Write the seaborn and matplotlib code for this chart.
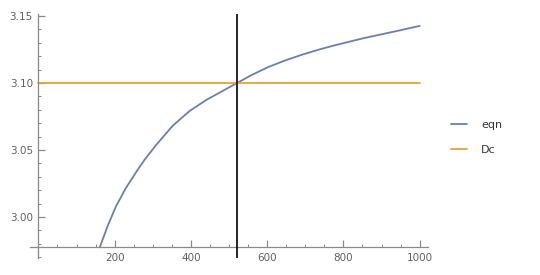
import matplotlib
matplotlib.use("Agg")
import matplotlib.pyplot as plt
import seaborn as sns
import pandas as pd
from matplotlib.ticker import MultipleLocator

# data
eqn_x = [161, 181, 203, 229, 260, 278, 295, 308, 352, 396, 440, 484, 519,
         558, 602, 646, 690, 734, 778, 852, 940, 1000]
eqn_y = [2.9774, 2.9928, 3.0077, 3.0214, 3.0351, 3.0425, 3.0487, 3.0535, 3.0680,
         3.0790, 3.0873, 3.0942, 3.0997, 3.1058, 3.1118, 3.1167, 3.1210, 3.1248,
         3.1282, 3.1334, 3.1388, 3.1426]
dc_x = [0, 1000]
dc_y = [3.10, 3.10]
vline_x = 520
series_names = ["eqn", "Dc"]
x_ticks = [200, 400, 600, 800, 1000]
y_ticks = [3.00, 3.05, 3.10, 3.15]

df = pd.concat([
    pd.DataFrame({"x": eqn_x, "y": eqn_y, "series": series_names[0]}),
    pd.DataFrame({"x": dc_x, "y": dc_y, "series": series_names[1]}),
], ignore_index=True)

sns.set_style("white")
plt.rcParams["font.family"] = ["DejaVu Sans"]

fig = plt.figure(figsize=(5.4, 2.75), dpi=100)
ax = fig.add_axes([30 / 540, 17 / 275, 397.7 / 540, 244 / 275])

palette = {"eqn": "#6a7fab", "Dc": "#e3a535"}
sns.lineplot(data=df, x="x", y="y", hue="series", palette=palette,
             linewidth=1.3, ax=ax, sort=False, estimator=None)
for ln in ax.get_lines():
    ln.set_solid_joinstyle("round")

ax.axvline(vline_x, color="black", linewidth=1.2, zorder=5)

ax.set_xlim(-22, 1021)
ax.set_ylim(2.9694, 3.1515)
ax.set_xlabel("")
ax.set_ylabel("")

for s in ["top", "right"]:
    ax.spines[s].set_visible(False)
ax.spines["left"].set_position(("data", 0))
ax.spines["bottom"].set_position(("data", 2.9776))
axis_col = "#8a8a8a"
for s in ["left", "bottom"]:
    ax.spines[s].set_color(axis_col)
    ax.spines[s].set_linewidth(0.9)

ax.set_xticks(x_ticks)
ax.set_yticks(y_ticks)
ax.set_xticklabels([str(v) for v in x_ticks])
ax.set_yticklabels([f"{v:.2f}" for v in y_ticks])
ax.xaxis.set_minor_locator(MultipleLocator(50))
ax.yaxis.set_minor_locator(MultipleLocator(0.01))
ax.tick_params(which="major", direction="in", length=5, width=0.9, color=axis_col,
               labelsize=7.5, labelcolor="#606060", pad=4)
ax.tick_params(which="minor", direction="in", length=2.5, width=0.7, color=axis_col)
ax.tick_params(axis="x", which="both", bottom=True)
ax.tick_params(axis="y", which="both", left=True)

handles, labels = ax.get_legend_handles_labels()
ax.get_legend().remove()
fig.legend(handles, labels, loc="center left", bbox_to_anchor=(451 / 540, 0.50),
           frameon=False, fontsize=8, labelcolor="#333333", borderaxespad=0,
           borderpad=0, handlelength=1.4, handletextpad=1.3, labelspacing=1.3)

fig.savefig("out.png", dpi=100)
